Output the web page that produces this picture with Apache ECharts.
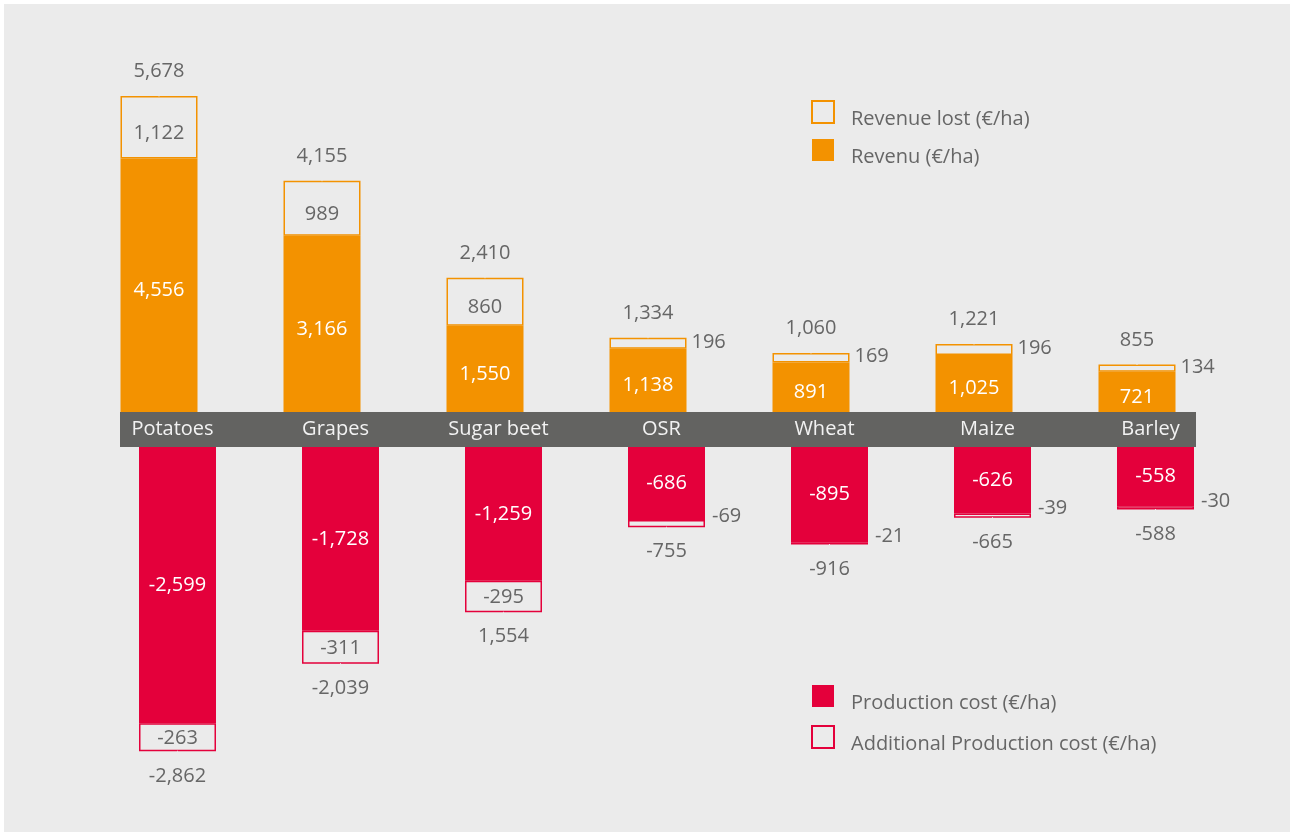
<!DOCTYPE html>
<html>
<head>
<meta charset="utf-8">
<script src="https://cdn.jsdelivr.net/npm/echarts@6/dist/echarts.min.js"></script>
<style>
html,body{margin:0;padding:0;background:#fff;}
#chart{width:1290px;height:832px;}
</style>
</head>
<body>
<div id="chart"></div>
<script>
const categories = ['Potatoes', 'Grapes', 'Sugar beet', 'OSR', 'Wheat', 'Maize', 'Barley'];
const revenue = [4556, 3166, 1550, 1138, 891, 1025, 721];
const revenueLost = [1122, 989, 860, 196, 169, 196, 134];
const revenueTotal = [5678, 4155, 2410, 1334, 1060, 1221, 855];
const productionCost = [-2599, -1728, -1259, -686, -895, -626, -558];
const additionalCost = [-263, -311, -295, -69, -21, -39, -30];
const costTotal = [-2862, -2039, -1554, -755, -916, -665, -588];
const costTotalLabels = ['-2,862', '-2,039', '1,554', '-755', '-916', '-665', '-588'];

const ORANGE = '#f39200';
const RED = '#e4003b';
const BG = '#ebebeb';
const TXT = '#666666';
const FONT = 'Open Sans';
const FS = 20;
const fmt = v => Number(v).toLocaleString('en-US');

const chart = echarts.init(document.getElementById('chart'));

const lostData = revenueLost.map(v => ({
  value: v,
  label: Math.abs(v) >= 300
    ? { position: 'inside', offset: [0, 6] }
    : { position: 'right', distance: 5, offset: [0, -1] }
}));
const addData = additionalCost.map(v => ({
  value: v,
  label: Math.abs(v) >= 200
    ? { position: 'inside', offset: [0, 1] }
    : { position: 'right', distance: 7, offset: [0, -7] }
}));

const legendText = {
  color: TXT, fontSize: FS, fontFamily: FONT, padding: [0, 0, 0, 12],
  rich: {
    s: { height: 34, width: 0 },
    t: { verticalAlign: 'bottom', color: TXT, fontSize: FS, fontFamily: FONT }
  }
};

const option = {
  backgroundColor: '#ffffff',
  animation: false,
  textStyle: { fontFamily: FONT },
  graphic: [
    { type: 'rect', z: -100, shape: { x: 4, y: 4, width: 1286, height: 828 }, style: { fill: BG } },
    { type: 'rect', z: -50, shape: { x: 120, y: 412, width: 1076, height: 35 }, style: { fill: '#636361' } }
  ],
  legend: [
    {
      orient: 'vertical', left: 806, top: 95, itemWidth: 22, itemHeight: 22, itemGap: 10,
      icon: 'rect', selectedMode: false, textStyle: legendText, formatter: '{s|}{t|{name}}',
      data: ['Revenue lost (€/ha)', 'Revenu (€/ha)']
    },
    {
      orient: 'vertical', left: 806, top: 680, itemWidth: 22, itemHeight: 22, itemGap: 12,
      icon: 'rect', selectedMode: false, textStyle: legendText, formatter: '{s|}{t|{name}}',
      data: ['Production cost (€/ha)', 'Additional Production cost (€/ha)']
    }
  ],
  grid: [
    { left: 77.5, width: 1141, top: 78, height: 334 },
    { left: 96, width: 1141, top: 447, height: 319 }
  ],
  xAxis: [
    {
      type: 'category', gridIndex: 0, data: categories, position: 'bottom',
      axisLine: { show: false }, axisTick: { show: false },
      axisLabel: { color: '#f2f2f2', fontSize: FS, fontFamily: FONT, margin: 7, padding: [0, 0, 0, 27] }
    },
    {
      type: 'category', gridIndex: 1, data: categories, position: 'top',
      axisLine: { show: false }, axisTick: { show: false }, axisLabel: { show: false }
    }
  ],
  yAxis: [
    { type: 'value', gridIndex: 0, min: 0, max: 6000, show: false, splitLine: { show: false } },
    { type: 'value', gridIndex: 1, min: -3000, max: 0, show: false, splitLine: { show: false } }
  ],
  series: [
    {
      name: 'Revenu (€/ha)', type: 'bar', stack: 'rev', xAxisIndex: 0, yAxisIndex: 0,
      barWidth: 77, data: revenue,
      itemStyle: { color: ORANGE },
      label: { show: true, position: 'inside', offset: [0, 5], color: '#ffffff', fontSize: FS, fontFamily: FONT, formatter: p => fmt(p.value) }
    },
    {
      name: 'Revenue lost (€/ha)', type: 'bar', stack: 'rev', xAxisIndex: 0, yAxisIndex: 0,
      barWidth: 77, data: lostData,
      itemStyle: { color: BG, borderColor: ORANGE, borderWidth: 1.5 },
      label: { show: true, color: TXT, fontSize: FS, fontFamily: FONT, formatter: p => fmt(p.value) }
    },
    {
      name: 'revTotal', type: 'scatter', xAxisIndex: 0, yAxisIndex: 0,
      data: revenueTotal, symbol: 'rect', symbolSize: 1, itemStyle: { color: BG, opacity: 1 },
      label: { show: true, position: 'top', distance: 14, color: TXT, opacity: 1, fontSize: FS, fontFamily: FONT, formatter: p => fmt(p.value) }
    },
    {
      name: 'Production cost (€/ha)', type: 'bar', stack: 'cost', xAxisIndex: 1, yAxisIndex: 1,
      barWidth: 77, data: productionCost,
      itemStyle: { color: RED },
      label: { show: true, position: 'inside', color: '#ffffff', fontSize: FS, fontFamily: FONT, formatter: p => fmt(p.value) }
    },
    {
      name: 'Additional Production cost (€/ha)', type: 'bar', stack: 'cost', xAxisIndex: 1, yAxisIndex: 1,
      barWidth: 77, data: addData,
      itemStyle: { color: BG, borderColor: RED, borderWidth: 1.5 },
      label: { show: true, color: TXT, fontSize: FS, fontFamily: FONT, formatter: p => fmt(p.value) }
    },
    {
      name: 'costTotal', type: 'scatter', xAxisIndex: 1, yAxisIndex: 1,
      data: costTotal, symbol: 'rect', symbolSize: 1, itemStyle: { color: BG, opacity: 1 },
      label: { show: true, position: 'bottom', distance: 14, color: TXT, opacity: 1, fontSize: FS, fontFamily: FONT, formatter: p => costTotalLabels[p.dataIndex] }
    }
  ]
};
chart.setOption(option);
</script>
</body>
</html>
